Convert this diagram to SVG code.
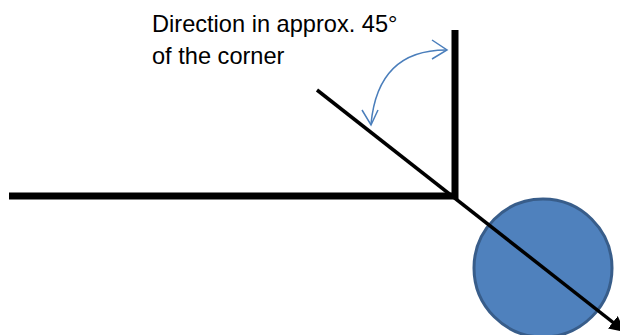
<svg xmlns="http://www.w3.org/2000/svg" width="620" height="335" viewBox="0 0 620 335">
<style>
.lbl{font-family:"Liberation Sans",Arial,sans-serif;font-size:23.6px;fill:#000}
.wall{stroke:#000;stroke-width:7;fill:none}
.arc{stroke:#4A7EBB;stroke-width:1.5;fill:none}
</style>
<defs>
<marker id="ah" viewBox="0 0 10 10" refX="9" refY="5" markerWidth="4.5" markerHeight="4.5" orient="auto" markerUnits="strokeWidth">
<path d="M0,0 L10,5 L0,10 z" fill="#000"/>
</marker>
</defs>
<g id="ball">
<circle cx="543" cy="268" r="69" fill="#4F81BD" stroke="#385D8A" stroke-width="3"/>
</g>
<g id="walls">
<line class="wall" x1="9" y1="196" x2="458" y2="196"/>
<line class="wall" x1="455" y1="30" x2="455" y2="199"/>
</g>
<g id="connectors">
<line x1="317" y1="90" x2="624" y2="331" stroke="#000" stroke-width="3.5" marker-end="url(#ah)"/>
<path class="arc" d="M446,50 Q378,50 371,124"/>
<path class="arc" d="M432,40 L447,50 L432,59"/>
<path class="arc" d="M362,110 L371,125 L378,110"/>
</g>
<g id="label">
<text class="lbl" x="152" y="32">Direction in approx. 45°</text>
<text class="lbl" x="152" y="64">of the corner</text>
</g>
</svg>
